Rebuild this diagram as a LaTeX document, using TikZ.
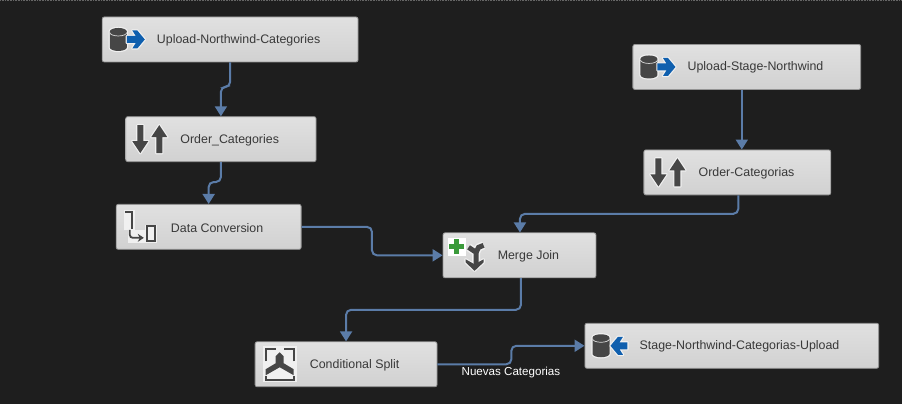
\documentclass[tikz,border=0pt]{standalone}
\usepackage{fontspec}
\setmainfont{Liberation Sans}
\usetikzlibrary{arrows.meta}
\definecolor{canvasbg}{HTML}{1E1E1E}
\definecolor{flowblue}{HTML}{5B7CA8}
\definecolor{icondark}{HTML}{464646}
\definecolor{iconblue}{HTML}{0F5FAE}
\definecolor{icongreen}{HTML}{3A9A3A}
\tikzset{
    taskbox/.style={draw=black!42, line width=.8pt, rounded corners=2pt, top color=black!12, bottom color=black!18,
        minimum height=45pt, inner sep=0pt},
    tasklabel/.style={anchor=west, inner sep=0pt, yshift=-.8pt, text=black!78, font=\fontsize{12.4}{14}\selectfont},
    flow/.style={draw=flowblue, line width=2pt, rounded corners=5pt, -{Triangle[length=10pt,width=12pt]}},
    halo/.style={draw=white!94!black, line width=2.4pt, line join=round},
    pics/dbicon/.style={code={
        \path[halo, fill=white!94!black] (8,-8) -- (8,8) arc[start angle=180, end angle=0, x radius=8.5, y radius=3.5] -- (25,-8) arc[start angle=0, end angle=-180, x radius=8.5, y radius=3.5] -- cycle;
        \fill[icondark] (8,-8) -- (8,8) arc[start angle=180, end angle=0, x radius=8.5, y radius=3.5] -- (25,-8) arc[start angle=0, end angle=-180, x radius=8.5, y radius=3.5] -- cycle;
        \draw[white!85!black, line width=.7pt] (8,-7) arc[start angle=180, end angle=0, x radius=8.5, y radius=3.5];
    }},
    pics/arrowout/.style={code={
        \path[halo, fill=iconblue] (25,-3.5) -- (34,-3.5) -- (30.5,-9) -- (35.5,-9) -- (43,0) -- (35.5,9) -- (30.5,9) -- (34,3.5) -- (25,3.5) -- cycle;
        \fill[iconblue] (25,-3.5) -- (34,-3.5) -- (30.5,-9) -- (35.5,-9) -- (43,0) -- (35.5,9) -- (30.5,9) -- (34,3.5) -- (25,3.5) -- cycle;
    }},
    pics/arrowin/.style={code={
        \path[halo, fill=iconblue] (43,-3.5) -- (35,-3.5) -- (38.5,-9) -- (33.5,-9) -- (26,0) -- (33.5,9) -- (38.5,9) -- (35,3.5) -- (43,3.5) -- cycle;
        \fill[iconblue] (43,-3.5) -- (35,-3.5) -- (38.5,-9) -- (33.5,-9) -- (26,0) -- (33.5,9) -- (38.5,9) -- (35,3.5) -- (43,3.5) -- cycle;
    }},
    pics/sorticon/.style={code={
        \path[halo] (12,-14) -- (18,-14) -- (18,2) -- (23,2) -- (15,14) -- (7,2) -- (12,2) -- cycle;
        \path[halo] (31,14) -- (37,14) -- (37,-2) -- (42,-2) -- (34,-14) -- (26,-2) -- (31,-2) -- cycle;
        \fill[icondark] (12,-14) -- (18,-14) -- (18,2) -- (23,2) -- (15,14) -- (7,2) -- (12,2) -- cycle;
        \fill[icondark] (31,14) -- (37,14) -- (37,-2) -- (42,-2) -- (34,-14) -- (26,-2) -- (31,-2) -- cycle;
    }},
    pics/converticon/.style={code={
        \fill[white!94!black] (8,-17) rectangle (19,3);
        \fill[white!94!black] (12,3) rectangle (29,16);
        \fill[white!94!black] (29,-2) rectangle (41,16);
        \draw[icondark, line width=2pt] (9,-14.5) -- (16.5,-14.5) -- (16.5,2);
        \draw[icondark, line width=1.8pt, rounded corners=3pt, -{Stealth[length=6pt,width=8pt]}] (14,3) -- (14,11) -- (28,11);
        \draw[icondark, line width=2pt] (31,-.5) rectangle (39,14);
    }},
    pics/mergeicon/.style={code={
        \fill[white] (5,-17.5) rectangle (23,.5);
        \draw[white!94!black, line width=8pt, line join=round] (33.5,8) -- (33.5,-3) -- (26,-8);
        \draw[white!94!black, line width=8pt, line join=round] (33.5,-3) -- (36,-8) -- (41,-10);
        \path[halo, fill=white] (23,4) -- (32,9) -- (41,4) -- (41,7) -- (32,15.5) -- (23,7) -- cycle;
        \draw[icondark, line width=5pt] (33.5,10) -- (33.5,-3) -- (26,-8);
        \draw[icondark, line width=5pt] (33.5,-3) -- (36,-8) -- (41,-10);
        \fill[icondark] (23,4) -- (32,9) -- (41,4) -- (41,7) -- (32,15.5) -- (23,7) -- cycle;
        \draw[icongreen, line width=4.8pt] (14,-16) -- (14,-1);
        \draw[icongreen, line width=4.8pt] (6.5,-8.5) -- (21.5,-8.5);
    }},
    pics/spliticon/.style={code={
        \fill[white!94!black] (8,-18) rectangle (42,18);
        \draw[icondark, line width=2.4pt] (11,-3) -- (11,-15) -- (21,-15);
        \draw[icondark, line width=2.4pt] (39,-3) -- (39,-15) -- (29,-15);
        \fill[icondark] (25,-12) -- (29,-8) -- (29,-1) -- (39,5) -- (39,11) -- (25,3) -- (11,11) -- (11,5) -- (21,-1) -- (21,-8) -- cycle;
        \draw[icondark, line width=2pt] (11,12) -- (11,15.5) -- (39,15.5) -- (39,12);
    }},
}

\begin{document}
\begin{tikzpicture}[x=1pt, y=-1pt]
    \fill[canvasbg] (0,0) rectangle (902,404);
    \draw[black!60, line width=.6pt, densely dotted] (0,.4) -- (902,.4);

    % tasks
    \node[taskbox, minimum width=256pt] (uploadnorth) at (230,39.5) {};
    \node[taskbox, minimum width=190.5pt] (ordercat) at (220.75,139.25) {};
    \node[taskbox, minimum width=185pt] (dataconv) at (208.5,227) {};
    \node[taskbox, minimum width=153pt] (mergejoin) at (519.5,255.5) {};
    \node[taskbox, minimum width=182pt] (condsplit) at (346,364.5) {};
    \node[taskbox, minimum width=294pt] (stageupload) at (732,346) {};
    \node[taskbox, minimum width=228pt] (uploadstage) at (747,67) {};
    \node[taskbox, minimum width=187pt] (ordercateg) at (737.5,172.5) {};

    % names
    \node[tasklabel] (uploadnorthname) at ([xshift=55pt]uploadnorth.west) {Upload-Northwind-Categories};
    \node[tasklabel] (ordercatname) at ([xshift=55pt]ordercat.west) {Order\_Categories};
    \node[tasklabel] (dataconvname) at ([xshift=55pt]dataconv.west) {Data Conversion};
    \node[tasklabel] (mergejoinname) at ([xshift=55pt]mergejoin.west) {Merge Join};
    \node[tasklabel] (condsplitname) at ([xshift=55pt]condsplit.west) {Conditional Split};
    \node[tasklabel] (stageuploadname) at ([xshift=55pt]stageupload.west) {Stage-Northwind-Categorias-Upload};
    \node[tasklabel] (uploadstagename) at ([xshift=55pt]uploadstage.west) {Upload-Stage-Northwind};
    \node[tasklabel] (ordercategname) at ([xshift=55pt]ordercateg.west) {Order-Categorias};

    % icons
    \pic at (uploadnorth.west) {dbicon};
    \pic at (uploadnorth.west) {arrowout};
    \pic at (uploadstage.west) {dbicon};
    \pic at (uploadstage.west) {arrowout};
    \pic at (stageupload.west) {dbicon};
    \pic at (stageupload.west) {arrowin};
    \pic at (ordercat.west) {sorticon};
    \pic at (ordercateg.west) {sorticon};
    \pic at (dataconv.west) {converticon};
    \pic at (mergejoin.west) {mergeicon};
    \pic at (condsplit.west) {spliticon};

    % paths
    \draw[flow] (uploadnorth.south) -- ++(0,24.5) -| (ordercat.north);
    \draw[flow] (ordercat.south) -- ++(0,20) -| (dataconv.north);
    \draw[flow] (dataconv.east) -- ++(70.5,0) |- (mergejoin.west);
    \draw[flow] (uploadstage.south -| 742,0) -- (ordercateg.north -| 742,0);
    \draw[flow] (ordercateg.south -| 738.5,0) |- (520,214) -- (mergejoin.north -| 520,0);
    \draw[flow] (mergejoin.south -| 521,0) |- (346,310) -- (condsplit.north -| 346,0);
    \draw[flow] (condsplit.east) -- ++(74,0) |- (stageupload.west);

    \node[inner sep=0pt, text=white, font=\fontsize{11.6}{14}\selectfont] (nuevas) at (511,372.5) {Nuevas Categorias};
\end{tikzpicture}
\end{document}
